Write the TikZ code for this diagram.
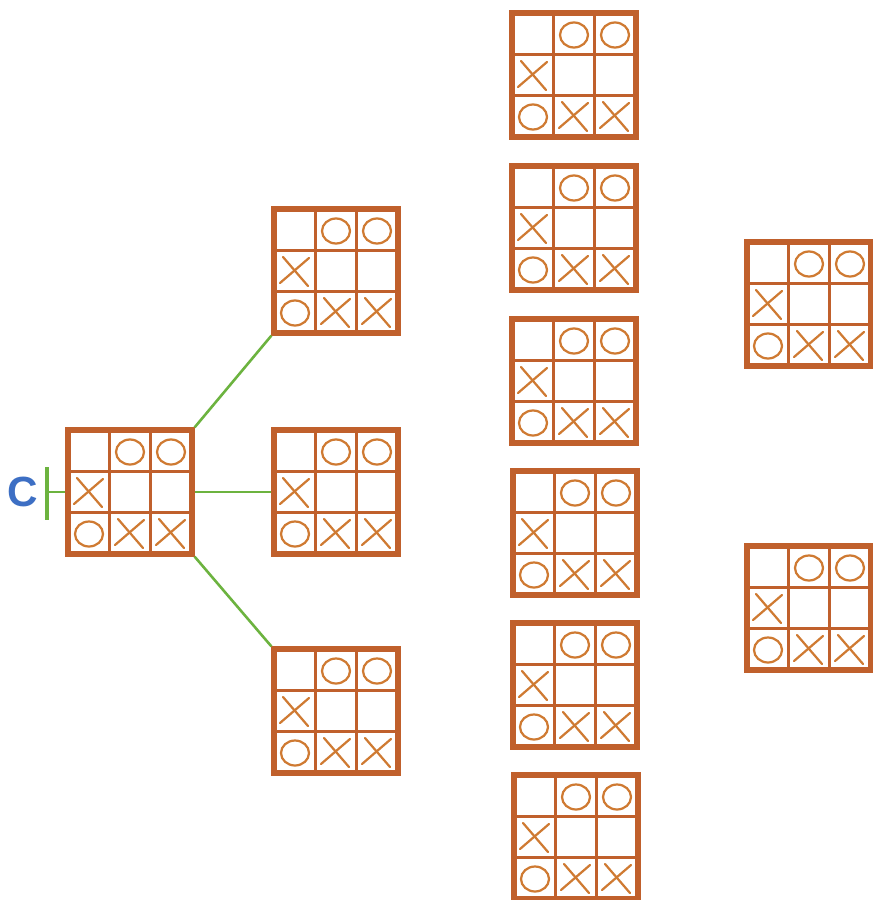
\documentclass[tikz,border=0pt]{standalone}
\usepackage{fontspec}
\setsansfont{Liberation Sans}
\usepackage{xcolor}
\usetikzlibrary{positioning}
\definecolor{boardbrown}{HTML}{C0602C}
\definecolor{inkorange}{HTML}{CF7A32}
\definecolor{linkgreen}{HTML}{6CB33F}
\definecolor{labelblue}{HTML}{3D6FC4}

\begin{document}
\begin{tikzpicture}[x=0.03cm,y=-0.03cm,
  board/.style={draw=boardbrown,line width=5pt,minimum size=3.7cm,inner sep=0pt,fill=white},
  grid/.style={draw=boardbrown,line width=2.6pt},
  ink/.style={draw=inkorange,line width=1.9pt,line cap=round},
  link/.style={draw=linkgreen,line width=2.2pt},
  ttt/.pic={
    \draw[grid] (-20.5,-61.5) -- (-20.5,61.5);
    \draw[grid] (20.5,-61.5) -- (20.5,61.5);
    \draw[grid] (-61.5,-20.5) -- (61.5,-20.5);
    \draw[grid] (-61.5,20.5) -- (61.5,20.5);
    \foreach \cx/\cy in {0/-41,41/-41,-41/41} {
      \draw[ink] (\cx,\cy+1) ellipse (14 and 12.5);
    }
    \foreach \cx/\cy in {-41/0,0/41,41/41} {
      \draw[ink] (\cx-15,\cy+12) -- (\cx+14,\cy-13);
      \draw[ink] (\cx-12,\cy-14) -- (\cx+13,\cy+15);
    }
  }]
  \useasboundingbox[fill=white] (0,0) rectangle (873,900);
  \foreach \name/\x/\y in {r/130/492,a/336/271,b/336/492,c/336/711,
      d1/574/75,d2/574/228,d3/574/381,d4/575/533,d5/575/685,d6/576/837,
      e1/809/304,e2/809/608} {
    \node[board] (\name) at (\x,\y) {};
    \pic at (\name) {ttt};
  }
  \draw[link] (r.north east) -- (a.south west);
  \draw[link] (r.east) -- (b.west);
  \draw[link] (r.south east) -- (c.north west);
  \coordinate (bartop) at (47,467);
  \coordinate (barbot) at (47,520);
  \coordinate (barmid) at (47,492);
  \draw[link,line width=3pt] (bartop) -- (barbot);
  \draw[link] (barmid) -- (r.west);
  \node[text=labelblue,inner sep=0pt,font=\sffamily\bfseries\fontsize{36}{36}\selectfont,left=0.25cm of barmid] (clabel) {C};
\end{tikzpicture}
\end{document}
